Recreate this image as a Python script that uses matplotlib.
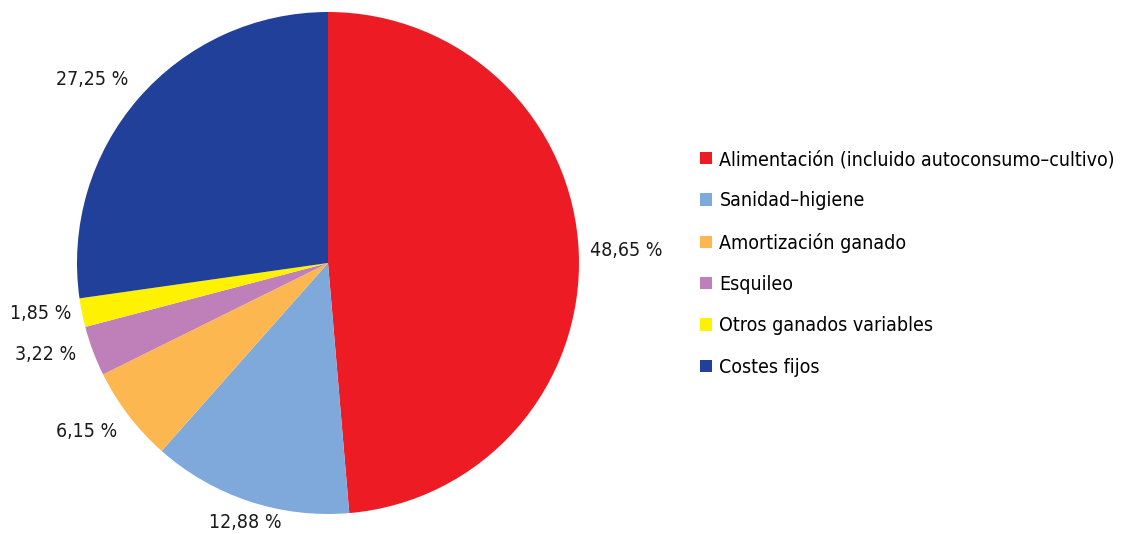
import matplotlib

matplotlib.use("Agg")
import matplotlib.pyplot as plt
import numpy as np
from matplotlib.patches import Patch

categories = [
    "Alimentación (incluido autoconsumo–cultivo)",
    "Sanidad–higiene",
    "Amortización ganado",
    "Esquileo",
    "Otros ganados variables",
    "Costes fijos",
]
shares = [48.65, 12.88, 6.15, 3.22, 1.85, 27.25]
colors = ["#ED1C24", "#7FA9DB", "#FDB751", "#BF7FB8", "#FFF200", "#21409A"]

# label placement: radial distance (pie radii) and angular nudge (degrees)
label_dist = [1.19, 1.087, 1.173, 1.182, 1.161, 1.19]
label_nudge = [0.0, 0.6, -2.4, -2.5, -1.5, 3.1]

plt.rcParams["font.family"] = ["DejaVu Sans"]
plt.rcParams["font.stretch"] = "condensed"

W, H = 1121, 534
fig = plt.figure(figsize=(W / 100, H / 100), dpi=100)

# pie centre (328, 263) px from top-left, radius 251 px
cx, cy, r, k = 328, H - 263, 251, 1.3
ax = fig.add_axes([(cx - r * k) / W, (cy - r * k) / H, 2 * r * k / W, 2 * r * k / H])

wedges, _ = ax.pie(
    shares, colors=colors, startangle=90, counterclock=False,
    radius=1, wedgeprops=dict(linewidth=0),
)
ax.set_xlim(-k, k)
ax.set_ylim(-k, k)
ax.axis("off")

for w, val, d, nudge in zip(wedges, shares, label_dist, label_nudge):
    ang = np.deg2rad((w.theta1 + w.theta2) / 2 + nudge)
    ax.text(d * np.cos(ang), d * np.sin(ang), f"{val:.2f} %".replace(".", ","),
            ha="center", va="center", fontsize=14, color="#1a1a1a", clip_on=False)

handles = [Patch(facecolor=c, edgecolor="none") for c in colors]
fig.legend(handles, categories, loc="upper left", bbox_to_anchor=(700 / W, 1 - 150 / H),
           frameon=False, fontsize=14, handlelength=0.6, handleheight=0.6,
           handletextpad=0.4, labelspacing=1.15, borderpad=0, borderaxespad=0)

fig.savefig("out.png", dpi=100)
